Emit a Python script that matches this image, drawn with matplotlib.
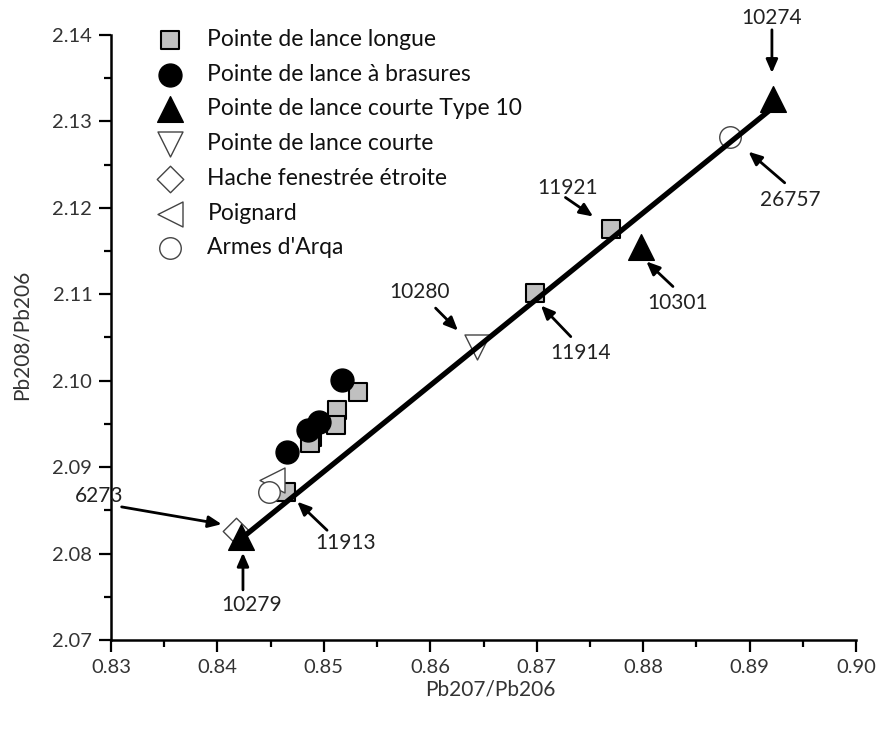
import matplotlib
matplotlib.use("Agg")
import matplotlib.pyplot as plt
from matplotlib.ticker import MultipleLocator, FormatStrFormatter

plt.rcParams['font.family'] = ['Lato', 'DejaVu Sans']

# ---- data ----
sq_x = [0.8770, 0.8698, 0.8532, 0.8512, 0.8511, 0.8489, 0.8487, 0.8464]
sq_y = [2.1176, 2.1102, 2.0987, 2.0966, 2.0949, 2.0935, 2.0928, 2.0871]
circ_x = [0.8517, 0.8495, 0.8485, 0.8465]
circ_y = [2.1001, 2.0952, 2.0943, 2.0918]
tri_x = [0.8922, 0.8798, 0.8422]
tri_y = [2.1326, 2.1155, 2.0819]
vtri_x = [0.8644]
vtri_y = [2.1039]
dia_x = [0.8417]
dia_y = [2.0826]
ltri_x = [0.8451]
ltri_y = [2.0885]
ocirc_x = [0.8882, 0.8448]
ocirc_y = [2.1282, 2.0871]
line_x = [0.8421, 0.8919]
line_y = [2.0816, 2.1313]

labels = ["Pointe de lance longue", "Pointe de lance à brasures",
          "Pointe de lance courte Type 10", "Pointe de lance courte",
          "Hache fenestrée étroite", "Poignard", "Armes d'Arqa"]

# annotations: text, text position, arrow tail, arrow head (data coords)
ann_text = ["10274", "26757", "11921", "10301", "11914", "10280", "11913", "6273", "10279"]
ann_txy = [(0.8921, 2.1420), (0.8938, 2.1209), (0.8729, 2.1223), (0.8832, 2.1090),
           (0.8741, 2.1032), (0.8590, 2.1103), (0.8520, 2.0812), (0.8289, 2.0867),
           (0.8432, 2.0741)]
ann_tail = [(0.8921, 2.1406), (0.8933, 2.1229), (0.8727, 2.1212), (0.8828, 2.1109),
            (0.8732, 2.1051), (0.8605, 2.1084), (0.8503, 2.0827), (0.8310, 2.0854),
            (0.8424, 2.0758)]
ann_head = [(0.8921, 2.1356), (0.8899, 2.1265), (0.8753, 2.1190), (0.8803, 2.1138),
            (0.8704, 2.1087), (0.8626, 2.1058), (0.8475, 2.0860), (0.8404, 2.0834),
            (0.8424, 2.0801)]

fig = plt.figure(figsize=(8.77, 7.30), dpi=100)
ax = fig.add_axes([111/877, 1-640/730, 745/877, 605/730])

ax.plot(line_x, line_y, color='black', lw=3.8, solid_capstyle='butt', zorder=3)

edge_open = '#444444'
h1 = ax.scatter(sq_x, sq_y, marker='s', s=13**2, facecolor='#c0c0c0', edgecolor='black', linewidths=1.5, zorder=2, label=labels[0])
h2 = ax.scatter(circ_x, circ_y, marker='o', s=16.5**2, facecolor='black', edgecolor='black', zorder=4, label=labels[1])
h3 = ax.scatter(tri_x, tri_y, marker='^', s=18.5**2, facecolor='black', edgecolor='black', zorder=4, label=labels[2])
h4 = ax.scatter(vtri_x, vtri_y, marker='v', s=18**2, facecolor='white', edgecolor=edge_open, linewidths=1.0, zorder=2, label=labels[3])
h5 = ax.scatter(dia_x, dia_y, marker='D', s=13.5**2, facecolor='white', edgecolor=edge_open, linewidths=1.0, zorder=2, label=labels[4])
h6 = ax.scatter(ltri_x, ltri_y, marker='<', s=18**2, facecolor='white', edgecolor=edge_open, linewidths=1.0, zorder=2, label=labels[5])
h7 = ax.scatter(ocirc_x, ocirc_y, marker='o', s=15.5**2, facecolor='white', edgecolor=edge_open, linewidths=1.0, zorder=2, label=labels[6])

for t, txy, tail, head in zip(ann_text, ann_txy, ann_tail, ann_head):
    ax.text(txy[0], txy[1], t, fontsize=15, ha='center', va='center', color='#222222', zorder=5)
    ax.annotate('', xy=head, xytext=tail,
                arrowprops=dict(arrowstyle='-|>,head_length=0.8,head_width=0.35', color='black', lw=2.0,
                                shrinkA=0, shrinkB=0), zorder=5)

ax.set_xlim(0.83, 0.90)
ax.set_ylim(2.07, 2.14)
ax.xaxis.set_major_locator(MultipleLocator(0.01))
ax.xaxis.set_minor_locator(MultipleLocator(0.005))
ax.yaxis.set_major_locator(MultipleLocator(0.01))
ax.yaxis.set_minor_locator(MultipleLocator(0.005))
ax.xaxis.set_major_formatter(FormatStrFormatter('%.2f'))
ax.yaxis.set_major_formatter(FormatStrFormatter('%.2f'))
for s in ['top', 'right']:
    ax.spines[s].set_visible(False)
for s in ['left', 'bottom']:
    ax.spines[s].set_linewidth(1.8)
ax.tick_params(which='major', direction='out', length=8.5, width=1.6, labelsize=14.5,
               colors='black', labelcolor='#333333', pad=5)
ax.tick_params(which='minor', direction='out', length=5, width=1.6)
ax.set_xlabel('Pb207/Pb206', fontsize=15, color='#333333', va='center')
ax.set_ylabel('Pb208/Pb206', fontsize=15, color='#333333', va='center')
ax.xaxis.set_label_coords((490 - 111) / 745, (640 - 690) / 605)
ax.yaxis.set_label_coords((22 - 111) / 745, (640 - 335) / 605)

leg = ax.legend(handles=[h1, h2, h3, h4, h5, h6, h7], loc='upper left',
                bbox_to_anchor=(0.054, 1.01), frameon=False, fontsize=16.5,
                labelspacing=0.6, handlelength=1.6, handletextpad=0.85,
                borderaxespad=0, borderpad=0, scatterpoints=1)
for txt in leg.get_texts():
    txt.set_color('#111111')

fig.savefig('out.png', dpi=100)
